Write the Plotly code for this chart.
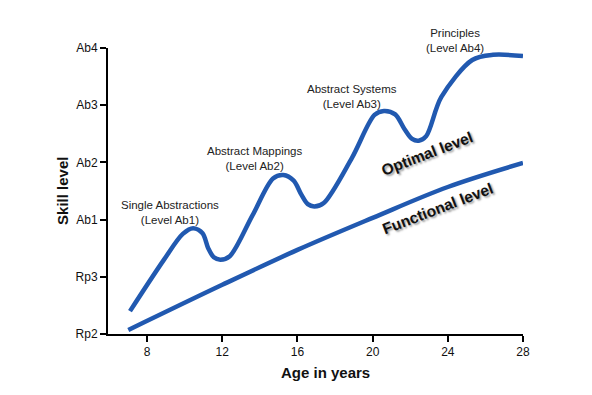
import plotly.graph_objects as go

# Data
levels = ["Rp2", "Rp3", "Ab1", "Ab2", "Ab3", "Ab4"]
level_values = [0, 1, 2, 3, 4, 5]
age_ticks = [8, 12, 16, 20, 24, 28]

optimal_age = [7.09, 8.9, 9.9, 10.45, 10.95, 11.25, 11.55, 11.9, 12.4, 13.6, 14.7, 15.25,
               15.8, 16.2, 16.55, 16.9, 17.4, 18.9, 20.1, 20.6, 21.2, 21.7, 22.1, 22.45,
               22.85, 23.65, 25.3, 26.4, 28.0]
optimal_level = [0.40, 1.30, 1.75, 1.85, 1.76, 1.50, 1.34, 1.30, 1.36, 2.07, 2.72, 2.78,
                 2.68, 2.44, 2.27, 2.23, 2.29, 3.08, 3.83, 3.90, 3.84, 3.58, 3.41, 3.38,
                 3.46, 4.14, 4.79, 4.88, 4.86]

functional_age = [7.0, 12.0, 16.0, 20.0, 24.0, 28.0]
functional_level = [0.07, 0.86, 1.47, 2.03, 2.57, 2.99]

stage_labels = ["Single Abstractions<br>(Level Ab1)", "Abstract Mappings<br>(Level Ab2)",
                "Abstract Systems<br>(Level Ab3)", "Principles<br>(Level Ab4)"]
stage_x = [9.23, 13.7, 18.9, 24.37]
stage_y = [2.12, 3.07, 4.16, 5.13]

blue = "#2159b0"
font = "Liberation Sans, Arial, sans-serif"
y_max = 5

fig = go.Figure()
fig.add_trace(go.Scatter(x=optimal_age, y=optimal_level, mode="lines",
                         line=dict(color=blue, width=4.5, shape="spline", smoothing=0.9),
                         showlegend=False, hoverinfo="skip"))
fig.add_trace(go.Scatter(x=functional_age, y=functional_level, mode="lines",
                         line=dict(color=blue, width=4.5, shape="spline", smoothing=1.0),
                         showlegend=False, hoverinfo="skip"))

for t, x, y in zip(stage_labels, stage_x, stage_y):
    fig.add_annotation(x=x, y=y / y_max, text=t, showarrow=False, xref="x", yref="paper",
                       xanchor="center", font=dict(family=font, size=11.5, color="#222"),
                       yanchor="middle")

fig.add_annotation(x=22.9, y=3.15, text="<b>Optimal level</b>", textangle=-21, showarrow=False,
                   font=dict(family=font, size=15.5, color="#111", shadow="1px 2px 2px #999"))
fig.add_annotation(x=23.45, y=2.2, text="<b>Functional level</b>", textangle=-21, showarrow=False,
                   font=dict(family=font, size=15.5, color="#111", shadow="1px 2px 2px #999"))

fig.add_annotation(x=-0.111, y=0.5, xref="paper", yref="paper", text="<b>Skill level</b>",
                   textangle=-90, showarrow=False, xanchor="center", yanchor="middle",
                   font=dict(family=font, size=15, color="#111"))
fig.add_annotation(x=0.525, y=-0.133, xref="paper", yref="paper", text="<b>Age in years</b>",
                   showarrow=False, xanchor="center", yanchor="middle",
                   font=dict(family=font, size=15, color="#111"))

fig.update_layout(
    width=576, height=379,
    margin=dict(l=100, r=61, t=40, b=53),
    plot_bgcolor="white", paper_bgcolor="white",
    xaxis=dict(range=[5.92, 28], tickvals=age_ticks, ticktext=[str(a) for a in age_ticks],
               showgrid=False, zeroline=False, showline=True, linecolor="black", linewidth=2,
               ticks="outside", ticklen=6, tickwidth=2, tickcolor="black",
               tickfont=dict(family=font, size=12, color="#111")),
    yaxis=dict(range=[0, y_max], tickvals=level_values, ticktext=levels,
               showgrid=False, zeroline=False, showline=True, linecolor="black", linewidth=2,
               ticks="outside", ticklen=6, tickwidth=2, tickcolor="black",
               tickfont=dict(family=font, size=12, color="#111")),
)
fig.write_html("out.html")
